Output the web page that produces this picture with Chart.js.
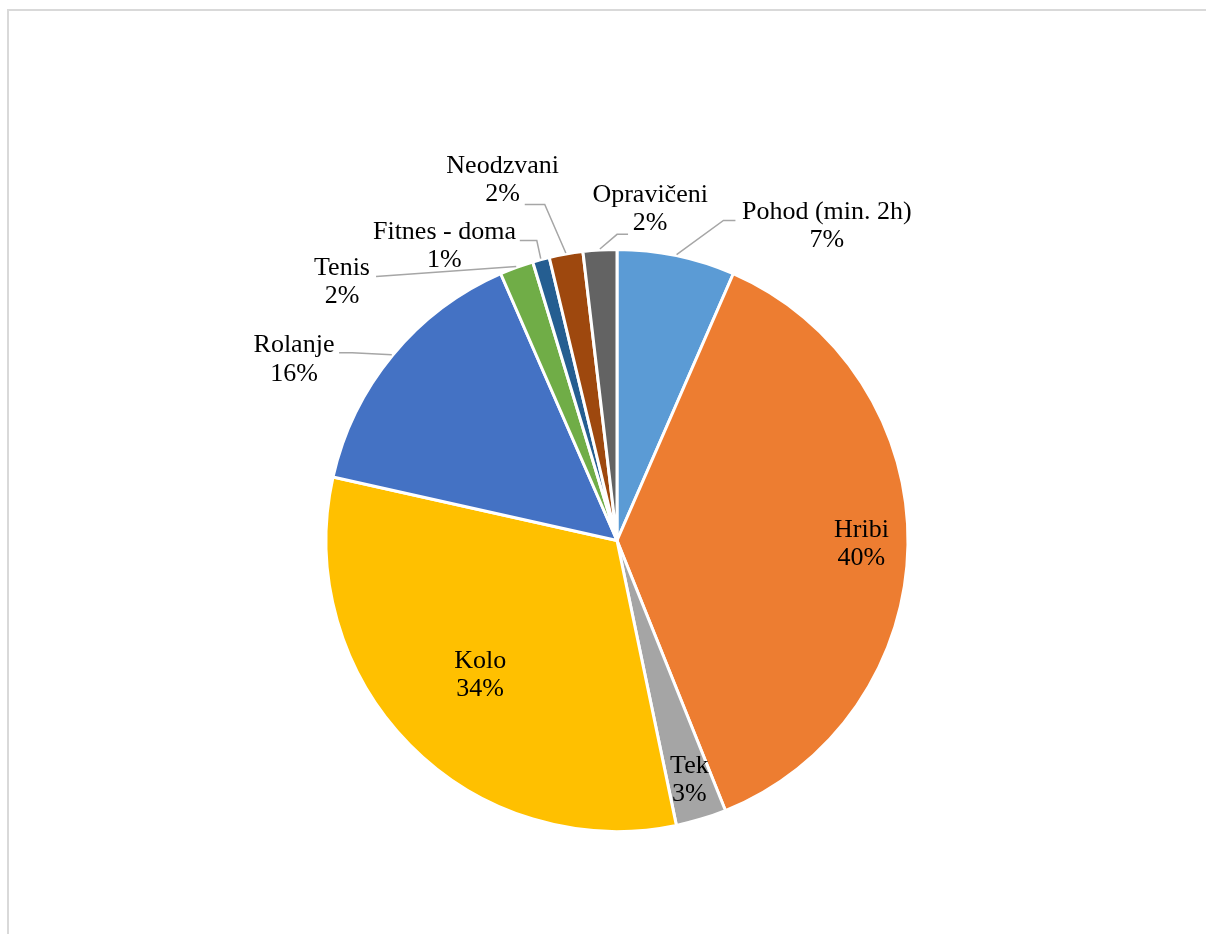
<!DOCTYPE html>
<html>
<head>
<meta charset="utf-8">
<title>Aktivnosti</title>
<script src="https://cdn.jsdelivr.net/npm/chart.js@4.4.1/dist/chart.umd.min.js"></script>
<style>
  html, body { margin: 0; padding: 0; background: #fff; overflow: hidden; }
  #frame {
    position: absolute; left: 7px; top: 9px; width: 1400px; height: 1100px;
    border-left: 2px solid #d9d9d9; border-top: 2px solid #d9d9d9;
  }
  #wrap { position: absolute; left: 0; top: 0; width: 1206px; height: 934px; }
</style>
</head>
<body>
<div id="frame"></div>
<div id="wrap"><canvas id="chart" width="1206" height="934"></canvas></div>
<script>
const categories = ["Pohod (min. 2h)", "Hribi", "Tek", "Kolo", "Rolanje", "Tenis", "Fitnes - doma", "Neodzvani", "Opravičeni"];
const shares = [7, 40, 3, 34, 16, 2, 1, 2, 2];
const sliceColors = ["#5B9BD5", "#ED7D31", "#A5A5A5", "#FFC000", "#4472C4", "#70AD47", "#255E91", "#9E480E", "#636363"];

// where each label goes: inside ones sit on the slice mid-angle at a fraction of the radius,
// outside ones are placed relative to the pie centre (in radii) and get a leader line
// (ex/ey = leader end next to the text, elbow = horizontal run in px back towards the pie)
const labelPlacement = [
  { outside: true, cx: 0.721, cy: -1.081, ex: 0.407, ey: -1.100, elbow: -12 },
  { outside: false, r: 0.84 },
  { outside: false, r: 0.86 },
  { outside: false, r: 0.66 },
  { outside: true, cx: -1.110, cy: -0.621, ex: -0.955, ey: -0.645, elbow: 13 },
  { outside: true, cx: -0.945, cy: -0.888, ex: -0.828, ey: -0.907, elbow: 0 },
  { outside: true, cx: -0.593, cy: -1.012, ex: -0.334, ey: -1.031, elbow: 17 },
  { outside: true, cx: -0.393, cy: -1.238, ex: -0.317, ey: -1.155, elbow: 20 },
  { outside: true, cx: 0.114, cy: -1.138, ex: 0.038, ey: -1.052, elbow: -11 },
];

const LABEL_FONT = "26px 'Liberation Serif', 'Times New Roman', serif";
const LINE_HEIGHT = 28.5;

const sliceLabels = {
  id: "sliceLabels",
  afterDatasetsDraw(chart) {
    const ctx = chart.ctx;
    const arcs = chart.getDatasetMeta(0).data;
    ctx.save();
    ctx.font = LABEL_FONT;
    ctx.textAlign = "center";
    ctx.textBaseline = "middle";
    arcs.forEach((arc, i) => {
      const p = labelPlacement[i];
      const { x, y, startAngle, endAngle, outerRadius } = arc.getProps(["x", "y", "startAngle", "endAngle", "outerRadius"], true);
      const mid = (startAngle + endAngle) / 2;
      let tx, ty;
      if (p.outside) {
        tx = x + p.cx * outerRadius;
        ty = y + p.cy * outerRadius;
        const ax = x + Math.cos(mid) * (outerRadius + 1);
        const ay = y + Math.sin(mid) * (outerRadius + 1);
        const endX = x + p.ex * outerRadius;
        const endY = y + p.ey * outerRadius;
        ctx.strokeStyle = "#a6a6a6";
        ctx.lineWidth = 1.5;
        ctx.beginPath();
        ctx.moveTo(ax, ay);
        ctx.lineTo(endX + p.elbow, endY);
        ctx.lineTo(endX, endY);
        ctx.stroke();
      } else {
        tx = x + Math.cos(mid) * outerRadius * p.r;
        ty = y + Math.sin(mid) * outerRadius * p.r;
      }
      ctx.fillStyle = "#000";
      ctx.fillText(categories[i], tx, ty - LINE_HEIGHT / 2);
      ctx.fillText(shares[i] + "%", tx, ty + LINE_HEIGHT / 2);
    });
    ctx.restore();
  },
};

new Chart(document.getElementById("chart"), {
  type: "pie",
  data: {
    labels: categories,
    datasets: [{
      data: shares,
      backgroundColor: sliceColors,
      borderColor: "#ffffff",
      borderWidth: 3,
    }],
  },
  options: {
    responsive: false,
    devicePixelRatio: 1,
    animation: false,
    layout: { padding: { top: 248, bottom: 101, left: 324.5, right: 296.5 } },
    plugins: {
      legend: { display: false },
      tooltip: { enabled: false },
    },
  },
  plugins: [sliceLabels],
});
</script>
</body>
</html>
